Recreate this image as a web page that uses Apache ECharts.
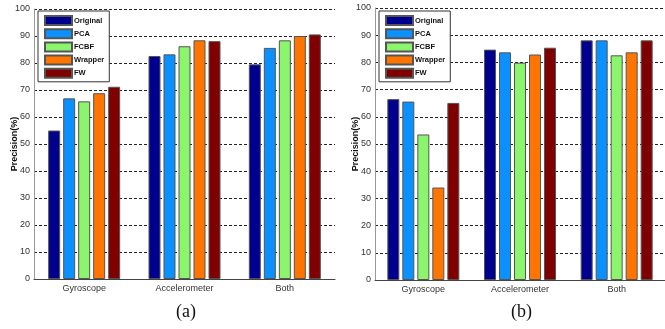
<!DOCTYPE html>
<html>
<head>
<meta charset="utf-8">
<script src="https://cdn.jsdelivr.net/npm/echarts@6/dist/echarts.min.js"></script>
<style>
html,body{margin:0;padding:0;background:#fff;}
#c{width:665px;height:329px;}
</style>
</head>
<body>
<div id="c"></div>
<script>
// ---- data ----
var categories = ['Gyroscope', 'Accelerometer', 'Both'];
var methods = ['Original', 'PCA', 'FCBF', 'Wrapper', 'FW'];
// Panel (a)
var originalA = [55.0, 82.6, 79.5];
var pcaA      = [66.9, 83.2, 85.6];
var fcbfA     = [65.8, 86.2, 88.4];
var wrapperA  = [68.8, 88.4, 90.0];
var fwA       = [71.2, 88.1, 90.6];
// Panel (b)
var originalB = [66.5, 84.7, 88.1];
var pcaB      = [65.6, 83.7, 88.1];
var fcbfB     = [53.5, 79.9, 82.6];
var wrapperB  = [34.0, 82.9, 83.7];
var fwB       = [65.1, 85.4, 88.1];
var captions = ['(a)', '(b)'];

var colors = ['#00008f', '#0a90ff', '#8cf56e', '#ff7500', '#800000'];
var sans = '"Liberation Sans", Arial, sans-serif';

var chart = echarts.init(document.getElementById('c'), null, {renderer: 'canvas'});

function xAx(gi) {
  return {
    type: 'category', gridIndex: gi, data: categories,
    axisLine: {lineStyle: {color: '#444', width: 1}},
    axisTick: {show: false},
    axisLabel: {color: '#333', fontFamily: sans, fontSize: 9, margin: 5}
  };
}
function yAx(gi) {
  return {
    type: 'value', gridIndex: gi, min: 0, max: 100, interval: 10,
    name: 'Precision(%)', nameLocation: 'middle', nameGap: 15, nameMoveOverlap: false,
    nameTextStyle: {fontFamily: sans, fontWeight: 'bold', fontSize: 9, color: '#111'},
    axisLine: {show: true, lineStyle: {color: '#999', width: 1}},
    axisTick: {show: false},
    axisLabel: {color: '#333', fontFamily: sans, fontSize: 9, margin: 4},
    splitLine: {show: true, lineStyle: {color: '#222', type: [3, 2], width: 1}}
  };
}
function legendFor(left, top) {
  return {
    data: methods, orient: 'vertical', left: left, top: top,
    icon: 'rect', itemWidth: 27, itemHeight: 9, itemGap: 2.2,
    padding: [4, 5, 3, 6],
    backgroundColor: '#fff', borderColor: '#333', borderWidth: 1,
    textStyle: {fontFamily: sans, fontWeight: 'bold', fontSize: 7.5, lineHeight: 9, color: '#111', padding: [0, 0, 0, -3]},
    selectedMode: false
  };
}

var dataA = [originalA, pcaA, fcbfA, wrapperA, fwA];
var dataB = [originalB, pcaB, fcbfB, wrapperB, fwB];
var series = [];
[dataA, dataB].forEach(function (set, gi) {
  set.forEach(function (vals, k) {
    series.push({
      type: 'bar', name: methods[k], xAxisIndex: gi, yAxisIndex: gi,
      data: vals, barWidth: 12, barGap: '25%',
      itemStyle: {color: colors[k], borderColor: '#555', borderWidth: 1},
      emphasis: {disabled: true}
    });
  });
});

chart.setOption({
  animation: false,
  color: colors,
  grid: [
    {left: 34, right: 330, top: 9, bottom: 50, containLabel: false},
    {left: 375, right: 0, top: 8, bottom: 49, containLabel: false}
  ],
  xAxis: [xAx(0), xAx(1)],
  yAxis: [yAx(0), yAx(1)],
  legend: [legendFor(38, 11), legendFor(379, 11)],
  series: series,
  graphic: [
    {type: 'text', left: 176, top: 303, style: {text: captions[0], font: '18px "Liberation Serif", "Times New Roman", serif', fill: '#111'}},
    {type: 'text', left: 511, top: 303, style: {text: captions[1], font: '18px "Liberation Serif", "Times New Roman", serif', fill: '#111'}}
  ]
});
</script>
</body>
</html>
